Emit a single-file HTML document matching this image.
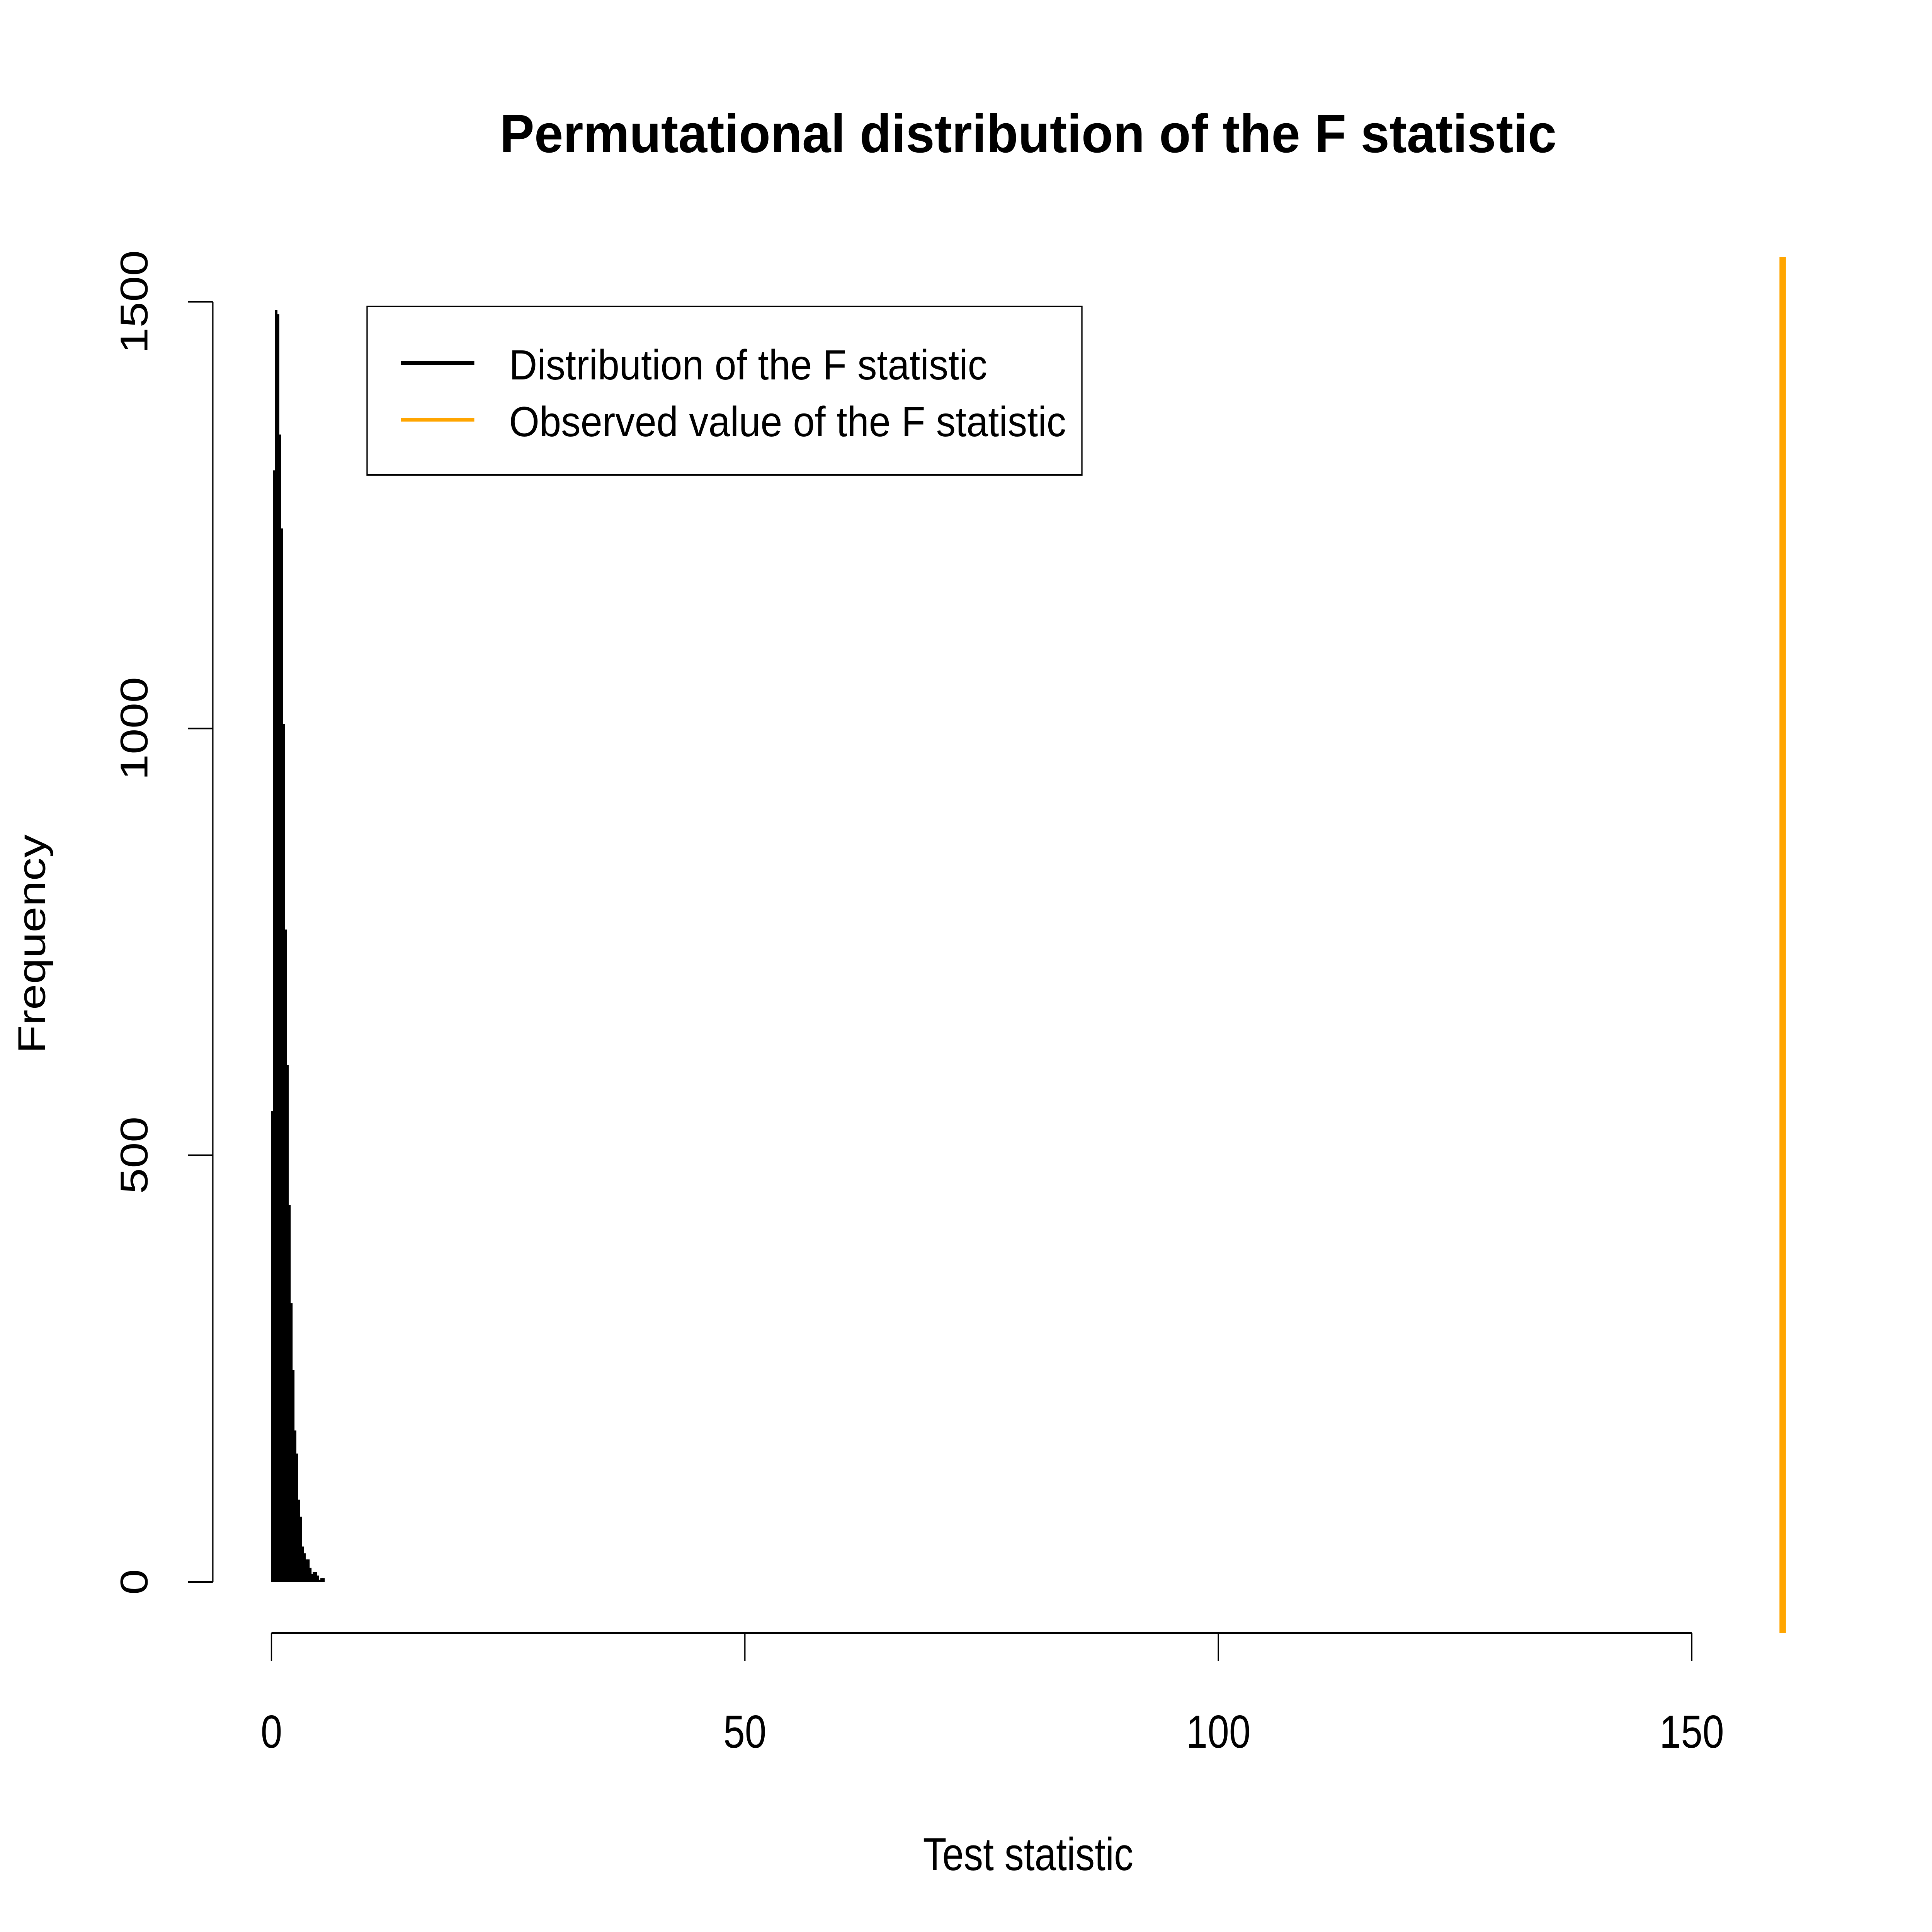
<!DOCTYPE html>
<html><head><meta charset="utf-8"><style>html,body{margin:0;padding:0;background:#fff;overflow:hidden;width:100%;height:100%}svg{display:block;width:100vw;height:100vh}text{font-family:"Liberation Sans",Arial,sans-serif;fill:#000}</style></head>
<body>
<svg id="chart" viewBox="0 0 6000 5000" preserveAspectRatio="none" xmlns="http://www.w3.org/2000/svg">
<rect width="6000" height="5000" fill="#fff"/>
<text x="3193" y="394" font-size="140" font-weight="bold" text-anchor="middle" textLength="3282" lengthAdjust="spacingAndGlyphs">Permutational distribution of the F statistic</text>
<g id="bars"></g>
<g id="axes"></g>
<line id="obs" stroke="#FFA500" stroke-width="20"/>
<g>
<rect x="1140" y="793" width="2220" height="436" fill="none" stroke="#000" stroke-width="4"/>
<line x1="1245" y1="939" x2="1473" y2="939" stroke="#000" stroke-width="10"/>
<line x1="1245" y1="1086" x2="1473" y2="1086" stroke="#FFA500" stroke-width="10"/>
<text x="1581" y="982" font-size="110" textLength="1485" lengthAdjust="spacingAndGlyphs">Distribution of the F statistic</text>
<text x="1581" y="1129" font-size="110" textLength="1730" lengthAdjust="spacingAndGlyphs">Observed value of the F statistic</text>
</g>
<text x="3193" y="4840" font-size="120" text-anchor="middle">Test statistic</text>
<text transform="translate(140,2443) rotate(-90)" font-size="120" text-anchor="middle">Frequency</text>
</svg>
<script>
const binStart = 0;
const binWidth = 0.2;
const counts = [551,1302,1490,1485,1344,1234,1005,764,605,441,326,248,177,150,96,76,41,33,26,26,16,9,11,11,7,2,4,4];
const observedValue = 159.6;
const xTicks = [0,50,100,150];
const yTicks = [0,500,1000,1500];
const yTickLabels = ["0","500","1000","1500"];

const NS = "http://www.w3.org/2000/svg";
const xs = v => 843 + (v - 0) * (5254 - 843) / 150;
const ys = v => 4094 - v * (4094 - 781) / 1500;
function mk(tag, attrs, parent) {
  const el = document.createElementNS(NS, tag);
  for (const k in attrs) el.setAttribute(k, attrs[k]);
  parent.appendChild(el);
  return el;
}
const bars = document.getElementById('bars');
counts.forEach((c, i) => {
  const x0 = xs(binStart + i * binWidth), x1 = xs(binStart + (i + 1) * binWidth);
  const r = mk('rect', {x: x0, y: ys(c), width: x1 - x0, height: ys(0) - ys(c), fill: '#000', stroke: '#000', 'stroke-width': 2}, bars);
  
  
});
const axes = document.getElementById('axes');
const xl = mk('line', {x1: xs(xTicks[0]), x2: xs(xTicks[xTicks.length - 1]), y1: 4226, y2: 4226, stroke: '#000', 'stroke-width': 4}, axes);


xTicks.forEach(t => {
  const tk = mk('line', {x1: xs(t), x2: xs(t), y1: 4226, y2: 4299, stroke: '#000', 'stroke-width': 4}, axes);
  
  
  const tx = mk('text', {x: xs(t), y: 4523, 'font-size': 120, 'text-anchor': 'middle'}, axes);
  tx.textContent = String(t);
  
  
});
const yl = mk('line', {x1: 661, x2: 661, y1: ys(yTicks[0]), y2: ys(yTicks[yTicks.length - 1]), stroke: '#000', 'stroke-width': 4}, axes);


yTicks.forEach((t, i) => {
  const tk = mk('line', {x1: 584, x2: 661, y1: ys(t), y2: ys(t), stroke: '#000', 'stroke-width': 4}, axes);
  
  
  const tx = mk('text', {transform: `translate(458,${ys(t)}) rotate(-90)`, 'font-size': 120, 'text-anchor': 'middle'}, axes);
  tx.textContent = yTickLabels[i];
  
  
});
const obs = document.getElementById('obs');
obs.setAttribute('x1', xs(observedValue));
obs.setAttribute('x2', xs(observedValue));
obs.setAttribute('y1', 665);
obs.setAttribute('y2', 4226);
</script>
</body></html>
